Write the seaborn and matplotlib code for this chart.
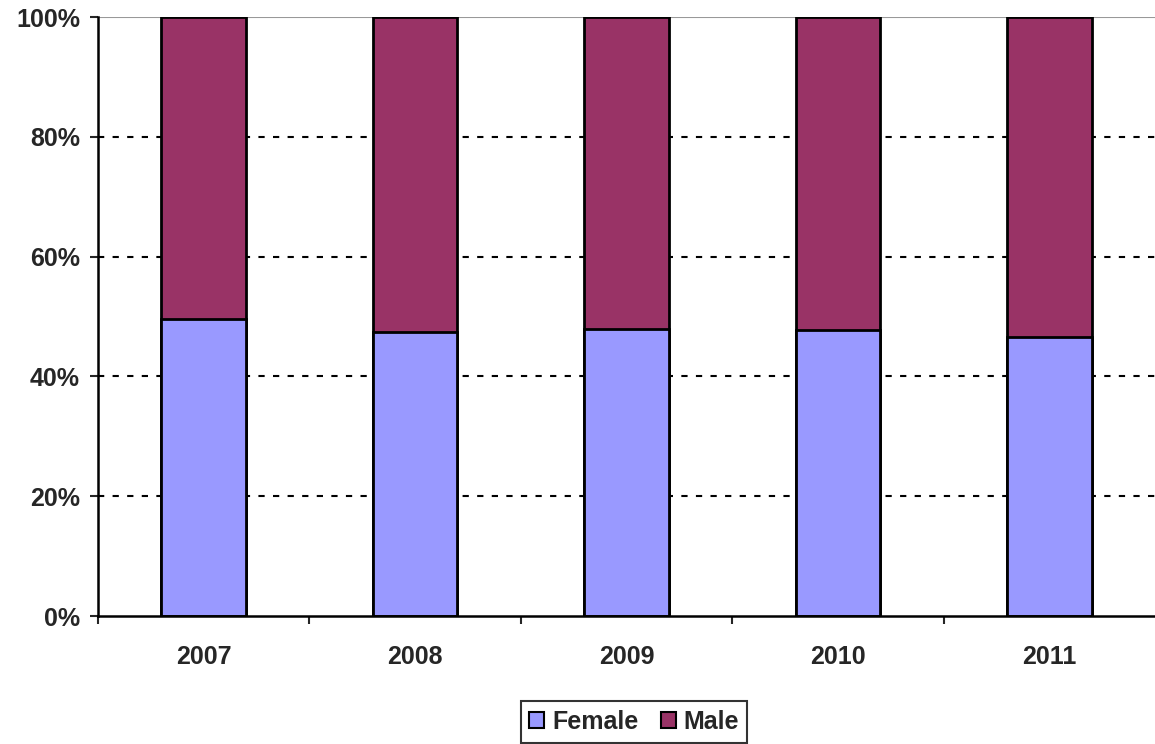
import matplotlib
matplotlib.use("Agg")
import matplotlib.pyplot as plt
import seaborn as sns
import pandas as pd
from matplotlib.patches import Patch

years = ["2007", "2008", "2009", "2010", "2011"]
female = [49.5, 47.4, 47.9, 47.7, 46.6]
male = [100 - f for f in female]
series_names = ["Female", "Male"]
colors = ["#9999FF", "#993366"]

sns.set_style("white")
plt.rcParams['font.family'] = ['Liberation Sans', 'DejaVu Sans']

df = pd.DataFrame({"year": years, "female": female, "total": [f + m for f, m in zip(female, male)]})

fig = plt.figure(figsize=(11.55, 7.44), dpi=100)
ax = fig.add_axes([98/1155, 1 - 616/744, (1155 - 98)/1155, (616 - 17)/744])

sns.barplot(data=df, x="year", y="total", color=colors[1], width=0.4,
            edgecolor="black", linewidth=2, saturation=1, ax=ax)
sns.barplot(data=df, x="year", y="female", color=colors[0], width=0.4,
            edgecolor="black", linewidth=2, saturation=1, ax=ax)

ax.set_xlim(-0.5, 4.5)
ax.set_ylim(0, 100)
ax.set_xlabel("")
ax.set_ylabel("")

for y in [20, 40, 60, 80]:
    ax.axhline(y, color="black", linestyle=(0, (3, 4)), linewidth=1.5, zorder=0)
ax.axhline(100, color="#999999", linewidth=1.5, zorder=0)

fs = 18
ax.set_yticks([0, 20, 40, 60, 80, 100])
ax.set_yticklabels([f"{v}%" for v in [0, 20, 40, 60, 80, 100]], fontsize=fs, fontweight="bold")
ax.set_xticks(range(len(years)))
ax.set_xticklabels(years, fontsize=fs, fontweight="bold")
ax.tick_params(axis="x", which="major", length=0, pad=21)
ax.set_xticks([i - 0.5 for i in range(len(years))], minor=True)
ax.tick_params(axis="x", which="minor", length=6, width=1.5, direction="out", bottom=True)
ax.tick_params(axis="y", length=6, width=1.5, direction="out", left=True, pad=7)

for s in ["top", "right"]:
    ax.spines[s].set_visible(False)
for s in ["left", "bottom"]:
    ax.spines[s].set_color("black")
    ax.spines[s].set_linewidth(1.8)

handles = [Patch(facecolor=c, edgecolor="black", linewidth=1.5, label=n) for c, n in zip(colors, series_names)]
leg = fig.legend(handles=handles, loc="center", bbox_to_anchor=(634/1155, 1 - 722/744), ncol=2,
                 frameon=True, fancybox=False, edgecolor="black",
                 prop={"weight": "bold", "size": fs}, handlelength=0.6, handleheight=0.6,
                 handletextpad=0.3, columnspacing=0.9, borderpad=0.35, borderaxespad=0)
leg.get_frame().set_linewidth(1.5)

fig.savefig("out.png", dpi=100)
